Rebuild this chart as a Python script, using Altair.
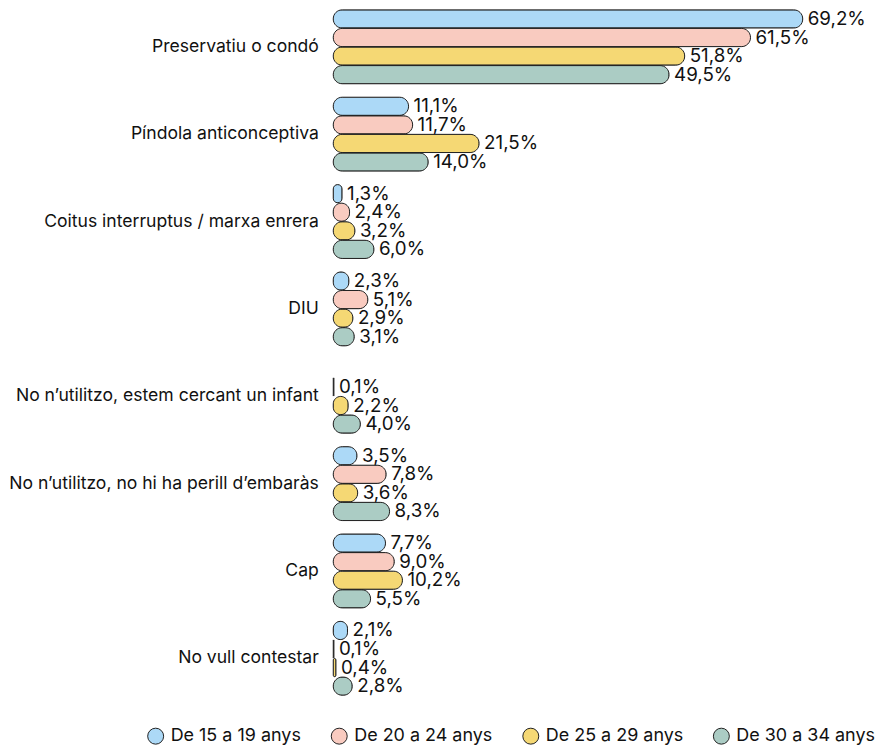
import altair as alt
import pandas as pd

categories = [
    "Preservatiu o condó",
    "Píndola anticonceptiva",
    "Coitus interruptus / marxa enrera",
    "DIU",
    "No n’utilitzo, estem cercant un infant",
    "No n’utilitzo, no hi ha perill d’embaràs",
    "Cap",
    "No vull contestar",
]
series = ["De 15 a 19 anys", "De 20 a 24 anys", "De 25 a 29 anys", "De 30 a 34 anys"]
colors = ["#acd9f7", "#f9cbc0", "#f5d874", "#abccc4"]

v_15_19 = [69.2, 11.1, 1.3, 2.3, None, 3.5, 7.7, 2.1]
v_20_24 = [61.5, 11.7, 2.4, 5.1, 0.1, 7.8, 9.0, 0.1]
v_25_29 = [51.8, 21.5, 3.2, 2.9, 2.2, 3.6, 10.2, 0.4]
v_30_34 = [49.5, 14.0, 6.0, 3.1, 4.0, 8.3, 5.5, 2.8]

rows = []
for s, vals in zip(series, [v_15_19, v_20_24, v_25_29, v_30_34]):
    for c, v in zip(categories, vals):
        if v is None:
            continue
        rows.append({"cat": c, "serie": s, "val": v,
                     "label": f"{v:.1f}".replace(".", ",") + "%"})
df = pd.DataFrame(rows)

FONT = "Inter"

y_enc = alt.Y("cat:N", sort=categories,
              scale=alt.Scale(paddingInner=0.154, paddingOuter=0),
              axis=alt.Axis(title=None, domain=False, ticks=False, labelFontSize=17.6,
                            labelPadding=15, labelLimit=400, labelColor="#111",
                            labelFont=FONT))
yoff = alt.YOffset("serie:N", sort=series,
                   scale=alt.Scale(domain=series, paddingInner=0.02, paddingOuter=0))
x_enc = alt.X("val:Q", scale=alt.Scale(domain=[0, 70]), axis=None)

bars = alt.Chart(df).mark_bar(cornerRadius=9, stroke="#222", strokeWidth=1).encode(
    y=y_enc, yOffset=yoff, x=x_enc,
    color=alt.Color("serie:N", sort=series,
                    scale=alt.Scale(domain=series, range=colors),
                    legend=alt.Legend(title=None, orient="none", legendX=-187, legendY=719,
                                      direction="horizontal", columns=4,
                                      symbolType="circle", symbolSize=256,
                                      symbolStrokeColor="#222", symbolStrokeWidth=1,
                                      labelFontSize=18, labelFont=FONT, labelColor="#111",
                                      labelOffset=6, columnPadding=28, labelLimit=300)),
)

labels = alt.Chart(df).mark_text(align="left", baseline="middle", dx=5, fontSize=18.8,
                                  font=FONT, color="#111").encode(
    y=y_enc, yOffset=yoff, x=x_enc, text="label:N"
)

chart = (bars + labels).properties(
    width=476, height=687,
    padding={"left": 0, "top": 0, "right": 0, "bottom": 0},
).configure_view(stroke=None)

chart.save("out.html", embed_options={"renderer": "svg", "actions": False})
